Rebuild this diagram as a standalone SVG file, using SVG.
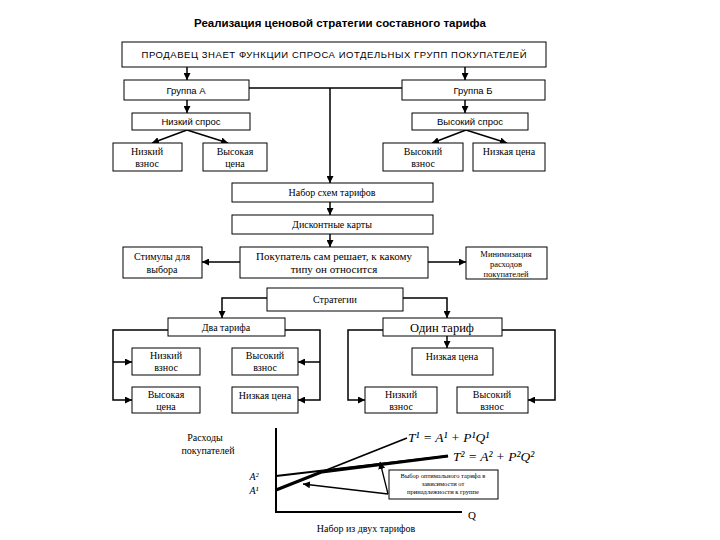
<svg xmlns="http://www.w3.org/2000/svg" width="720" height="540" viewBox="0 0 720 540">
<defs>
<marker id="a" viewBox="0 0 10 10" refX="10" refY="5" markerWidth="7" markerHeight="7" orient="auto" markerUnits="userSpaceOnUse"><path d="M0,0 L10,5 L0,10 z" fill="#000"/></marker>
<style>
.b{fill:#fff;stroke:#000;stroke-width:1}
.s{font-family:"Liberation Sans",Arial,sans-serif;font-size:9.5px;fill:#000;text-anchor:middle}
.r{font-family:"Liberation Serif","Times New Roman",serif;font-size:10px;fill:#000;text-anchor:middle}
.c line,.c path{stroke:#000;stroke-width:1.5;fill:none}
.m{marker-end:url(#a)}
.f{font-family:"Liberation Serif","Times New Roman",serif;font-style:italic;font-size:13.5px;fill:#000}
</style>
</defs>
<rect width="720" height="540" fill="#fff"/>
<text x="340" y="27" style="font-family:'Liberation Sans',Arial,sans-serif;font-size:11.5px;font-weight:bold" text-anchor="middle">Реализация ценовой стратегии составного тарифа</text>

<g class="c" id="connectors">
<path class="m" d="M187,67 V80"/>
<path class="m" d="M465,67 V80"/>
<path d="M249,88 H402"/>
<path class="m" d="M330,88 V183"/>
<path class="m" d="M187,100 V113"/>
<path class="m" d="M465,100 V113"/>
<path class="m" d="M187,130 L152,143"/>
<path class="m" d="M187,130 L228,143"/>
<path class="m" d="M466,130 L432,143"/>
<path class="m" d="M466,130 L507,143"/>
<path class="m" d="M330,202 V215"/>
<path class="m" d="M330,234 V247"/>
<path class="m" d="M240,262 H202"/>
<path class="m" d="M428,262 H466"/>
<path class="m" d="M267,298 H222 V318"/>
<path class="m" d="M403,298 H447 V318"/>
<path class="m" d="M168,330 H113 V400 H132"/>
<path class="m" d="M113,362 H132"/>
<path class="m" d="M285,330 H320 V400 H298"/>
<path class="m" d="M320,362 H298"/>
<path class="m" d="M447,336 V348"/>
<path class="m" d="M383,330 H348 V400 H365"/>
<path class="m" d="M502,330 H555 V400 H528"/>
</g>

<g id="n1"><rect class="b" x="122" y="42" width="424" height="25"/><text class="s" x="334" y="58" textLength="385">ПРОДАВЕЦ ЗНАЕТ ФУНКЦИИ СПРОСА ИОТДЕЛЬНЫХ ГРУПП ПОКУПАТЕЛЕЙ</text></g>
<g id="n2"><rect class="b" x="124" y="80" width="125" height="20"/><text class="s" x="186" y="93.5">Группа А</text></g>
<g id="n3"><rect class="b" x="402" y="80" width="143" height="20"/><text class="s" x="473" y="93.5">Группа Б</text></g>
<g id="n4"><rect class="b" x="132" y="113" width="118" height="17"/><text class="s" x="191" y="125">Низкий спрос</text></g>
<g id="n5"><rect class="b" x="412" y="113" width="116" height="17"/><text class="s" x="470" y="125">Высокий спрос</text></g>
<g id="n6"><rect class="b" x="113" y="143" width="69" height="28"/><text class="r" x="147" y="155">Низкий</text><text class="r" x="147" y="167">взнос</text></g>
<g id="n7"><rect class="b" x="203" y="143" width="64" height="28"/><text class="r" x="235" y="155">Высокая</text><text class="r" x="235" y="167">цена</text></g>
<g id="n8"><rect class="b" x="383" y="143" width="80" height="28"/><text class="r" x="423" y="155">Высокий</text><text class="r" x="423" y="167">взнос</text></g>
<g id="n9"><rect class="b" x="473" y="143" width="72" height="28"/><text class="r" x="509" y="155">Низкая цена</text></g>
<g id="n10"><rect class="b" x="232" y="183" width="201" height="19"/><text class="r" x="332" y="196">Набор схем тарифов</text></g>
<g id="n11"><rect class="b" x="232" y="215" width="201" height="19"/><text class="r" x="332" y="228">Дисконтные карты</text></g>
<g id="n12"><rect class="b" x="240" y="247" width="188" height="31"/><text class="r" x="334" y="260" style="font-size:11px">Покупатель сам решает, к какому</text><text class="r" x="334" y="273" style="font-size:11px">типу он относится</text></g>
<g id="n13"><rect class="b" x="123" y="247" width="79" height="31"/><text class="r" x="162" y="260">Стимулы для</text><text class="r" x="162" y="273">выбора</text></g>
<g id="n14"><rect class="b" x="466" y="247" width="81" height="32"/><text class="r" x="506" y="257" style="font-size:8.5px">Минимизация</text><text class="r" x="506" y="267" style="font-size:8.5px">расходов</text><text class="r" x="506" y="277" style="font-size:8.5px">покупателей</text></g>
<g id="n15"><rect class="b" x="267" y="288" width="136" height="23"/><text class="r" x="335" y="303">Стратегии</text></g>
<g id="n16"><rect class="b" x="168" y="318" width="117" height="18"/><text class="r" x="226" y="331">Два тарифа</text></g>
<g id="n17"><rect class="b" x="383" y="318" width="119" height="18"/><text class="r" x="442" y="332" style="font-size:12.5px">Один тариф</text></g>
<g id="n18"><rect class="b" x="132" y="348" width="68" height="27"/><text class="r" x="166" y="359">Низкий</text><text class="r" x="166" y="371">взнос</text></g>
<g id="n19"><rect class="b" x="232" y="348" width="66" height="27"/><text class="r" x="265" y="359">Высокий</text><text class="r" x="265" y="371">взнос</text></g>
<g id="n20"><rect class="b" x="132" y="387" width="68" height="26"/><text class="r" x="166" y="398">Высокая</text><text class="r" x="166" y="410">цена</text></g>
<g id="n21"><rect class="b" x="232" y="387" width="66" height="26"/><text class="r" x="265" y="399">Низкая цена</text></g>
<g id="n22"><rect class="b" x="412" y="348" width="81" height="27"/><text class="r" x="452" y="360">Низкая цена</text></g>
<g id="n23"><rect class="b" x="365" y="387" width="72" height="26"/><text class="r" x="401" y="398">Низкий</text><text class="r" x="401" y="410">взнос</text></g>
<g id="n24"><rect class="b" x="457" y="387" width="71" height="26"/><text class="r" x="492" y="398">Высокий</text><text class="r" x="492" y="410">взнос</text></g>

<g id="graph">
<path d="M276,428 V512 H462" stroke="#000" stroke-width="2" fill="none"/>
<line x1="276" y1="490" x2="407" y2="438" stroke="#000" stroke-width="1.8"/>
<line x1="276" y1="476" x2="448" y2="456" stroke="#000" stroke-width="1.8"/>
<path d="M276,490 L322,471.8 L448,456" stroke="#000" stroke-width="3.2" fill="none"/>
<text class="f" x="408" y="442">T¹ = A¹ + P¹Q¹</text>
<text class="f" x="453" y="461">T² = A² + P²Q²</text>
<text class="r" x="205" y="441">Расходы</text>
<text class="r" x="208" y="454">покупателей</text>
<text class="f" x="254" y="480" style="font-size:10px" text-anchor="middle">A²</text>
<text class="f" x="254" y="494" style="font-size:10px" text-anchor="middle">A¹</text>
<text class="r" x="472" y="519" style="font-size:11px">Q</text>
<text class="r" x="366" y="532">Набор из двух тарифов</text>
<g class="c"><path class="m" d="M388,494 L380,462" style="stroke-width:1.3"/><path class="m" d="M388,494 L303,484" style="stroke-width:1.3"/></g>
<g id="n25"><rect class="b" x="389" y="470" width="109" height="29"/>
<text class="r" x="443" y="478" style="font-size:6.5px">Выбор оптимального тарифа в</text>
<text class="r" x="443" y="486" style="font-size:6.5px">зависимости от</text>
<text class="r" x="443" y="494" style="font-size:6.5px">принадлежности к группе</text></g>
</g>
</svg>
